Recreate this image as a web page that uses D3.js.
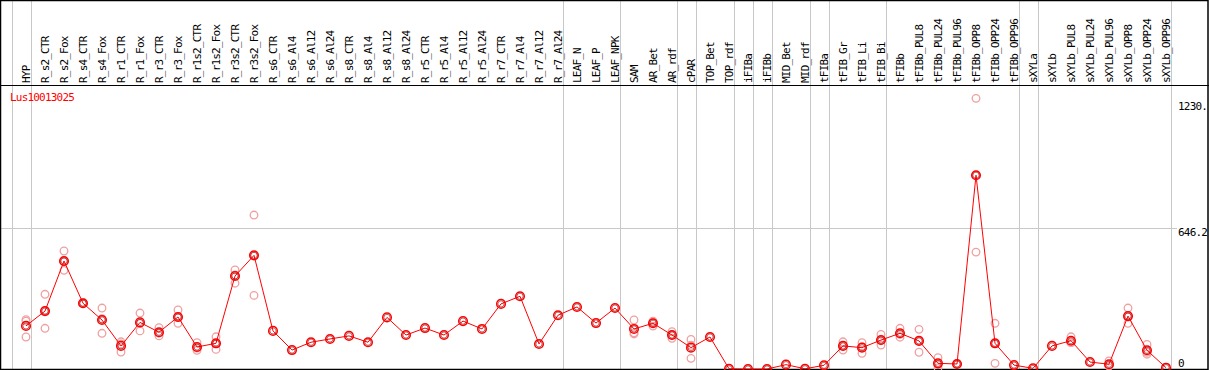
<!DOCTYPE html>
<html>
<head>
<meta charset="utf-8">
<script src="https://cdn.jsdelivr.net/npm/d3@7"></script>
<style>
  body { margin: 0; background: #fff; }
  text { font-family: "DejaVu Sans Mono", monospace; font-size: 11px; letter-spacing: -0.8px; }
</style>
</head>
<body>
<div id="chart"></div>
<script>
// sample names (columns)
const samples = ["HYP", "R_s2_CTR", "R_s2_Fox", "R_s4_CTR", "R_s4_Fox", "R_r1_CTR", "R_r1_Fox", "R_r3_CTR", "R_r3_Fox",
    "R_r1s2_CTR", "R_r1s2_Fox", "R_r3s2_CTR", "R_r3s2_Fox", "R_s6_CTR", "R_s6_Al4", "R_s6_Al12", "R_s6_Al24",
    "R_s8_CTR", "R_s8_Al4", "R_s8_Al12", "R_s8_Al24", "R_r5_CTR", "R_r5_Al4", "R_r5_Al12", "R_r5_Al24",
    "R_r7_CTR", "R_r7_Al4", "R_r7_Al12", "R_r7_Al24", "LEAF_N", "LEAF_P", "LEAF_NPK", "SAM", "AR_Bet", "AR_rdf",
    "cPAR", "TOP_Bet", "TOP_rdf", "iFIBa", "iFIBb", "MID_Bet", "MID_rdf", "tFIBa", "tFIB_Gr", "tFIB_Li", "tFIB_Bi",
    "tFIBb", "tFIBb_PUL8", "tFIBb_PUL24", "tFIBb_PUL96", "tFIBb_OPP8", "tFIBb_OPP24", "tFIBb_OPP96",
    "sXYLa", "sXYLb", "sXYLb_PUL8", "sXYLb_PUL24", "sXYLb_PUL96", "sXYLb_OPP8", "sXYLb_OPP24", "sXYLb_OPP96"];

// mean expression per sample
const means = [198, 266, 496, 302, 225, 106, 214, 169, 239, 101, 118, 427, 522, 175, 87, 123, 138, 152, 123, 237,
    156, 188, 156, 220, 184, 299, 334, 115, 247, 285, 211, 280, 184, 210, 156, 98, 147, 1, 0, 0, 20, 1, 17,
    106, 98, 133, 164, 129, 26, 23, 890, 118, 18, 3, 106, 130, 32, 22, 243, 86, 6];

// replicate values (empty where only one value is shown)
const replicates = [[227, 220, 147], [343, 187, 268], [542, 453, 493], [300, 305, 301], [280, 164, 231],
    [125, 78, 115], [257, 175, 210], [190, 152, 165], [271, 210, 236], [121, 86, 96], [148, 90, 116],
    [455, 394, 432], [707, 338, 521], [], [], [], [], [], [], [], [], [], [], [], [], [], [], [], [], [], [], [],
    [225, 166, 161], [213, 197, 220], [171, 141, 156], [136, 49, 109], [], [], [], [], [], [], [],
    [125, 87, 106], [121, 72, 101], [159, 110, 130], [187, 146, 159], [182, 77, 128], [52, 5, 21], [23, 23, 23],
    [1243, 537, 890], [210, 26, 118], [], [], [], [148, 121, 121], [], [37, 15, 14], [280, 210, 239],
    [113, 68, 77], []];

// last sample of each group (a separator follows it)
const groupEnds = ["HYP", "R_r7_Al24", "LEAF_NPK", "AR_rdf", "cPAR", "TOP_rdf", "iFIBa", "iFIBb", "MID_rdf",
    "tFIBa", "tFIB_Bi", "tFIBb_OPP96", "sXYLa", "sXYLb_OPP96"];

const yTicks = [0, 646.2];
const yTickLabels = ["0", "646.2"];
const yTop = 1230;
const geneName = "Lus10013025";

const W = 1209, H = 370, HEADER = 85;

const svg = d3.select("#chart").append("svg")
    .attr("width", W)
    .attr("height", H);

const x = d3.scalePoint().domain(samples).range([26, 1166]);
const y = d3.scaleLinear().domain([0, yTop]).range([369, 101.2]);

// vertical separators
const seps = [x(samples[0]) - x.step()].concat(groupEnds.map(d => x(d)));
svg.selectAll(".sep").data(seps).join("line")
    .attr("class", "sep")
    .attr("x1", d => Math.round(d + 4.5) + 0.5)
    .attr("x2", d => Math.round(d + 4.5) + 0.5)
    .attr("y1", 0).attr("y2", H)
    .attr("stroke", "#c8c8c8");

// horizontal grid line
svg.selectAll(".hgrid").data(yTicks.filter(d => d > 0)).join("line")
    .attr("x1", 1).attr("x2", 1177)
    .attr("y1", d => Math.round(y(d)) + 0.5)
    .attr("y2", d => Math.round(y(d)) + 0.5)
    .attr("stroke", "#c8c8c8");

// right-hand value labels
svg.append("text").attr("x", 1178).attr("y", y(yTop) + 9).text(yTop + ".");
svg.selectAll(".ylab").data(yTicks).join("text")
    .attr("x", 1178)
    .attr("y", (d, i) => d === 0 ? 367 : y(d) + 8)
    .text((d, i) => yTickLabels[i]);

// header labels, rotated
svg.selectAll(".xlab").data(samples).join("text")
    .attr("transform", d => "translate(" + (x(d) + 3.5) + ",83) rotate(-90)")
    .text(d => d);

// frame
svg.append("line").attr("x1", 0).attr("x2", W).attr("y1", HEADER + 0.5).attr("y2", HEADER + 0.5)
    .attr("stroke", "#000");
svg.append("rect").attr("x", 0.5).attr("y", 0.5).attr("width", W - 1.5).attr("height", H - 1)
    .attr("fill", "none").attr("stroke", "#000").attr("stroke-width", 1.5);

svg.append("text").attr("x", 10).attr("y", 101).attr("fill", "#ff0000").text(geneName);

// replicate points
const repPts = [];
samples.forEach((s, i) => replicates[i].forEach(v => repPts.push({ s: s, v: v })));
svg.selectAll(".rep").data(repPts).join("circle")
    .attr("cx", d => x(d.s))
    .attr("cy", d => y(d.v))
    .attr("r", 3.8)
    .attr("fill", "none")
    .attr("stroke", "#f0a0a0")
    .attr("stroke-width", 1.3);

// mean line
svg.append("path")
    .datum(means)
    .attr("fill", "none")
    .attr("stroke", "#ff0000")
    .attr("stroke-width", 1)
    .attr("d", d3.line().x((d, i) => x(samples[i])).y(d => y(d)));

// mean markers
const mg = svg.selectAll(".mean").data(means).join("g")
    .attr("transform", (d, i) => "translate(" + x(samples[i]) + "," + y(d) + ")");
mg.append("circle").attr("r", 4.3).attr("fill", "none").attr("stroke", "#ff0000").attr("stroke-width", 1.5);
mg.append("circle").attr("r", 3.1).attr("fill", "none").attr("stroke", "#900000").attr("stroke-width", 0.6);
</script>
</body>
</html>
